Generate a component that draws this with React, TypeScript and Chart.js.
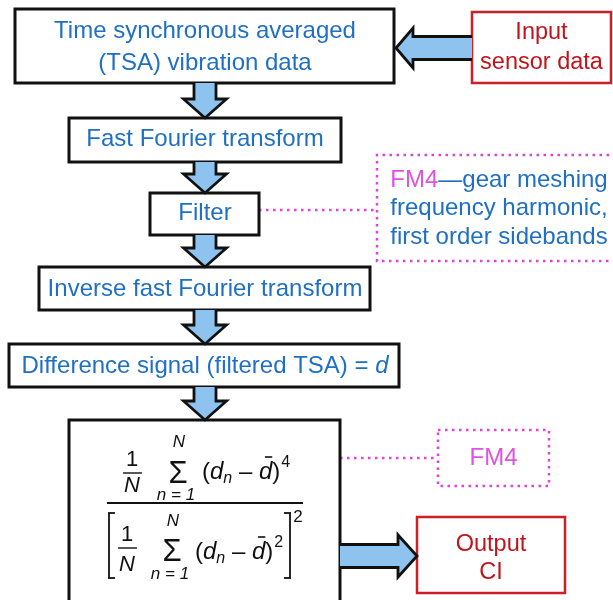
import React, { useEffect, useRef } from "react";
import { Chart, registerables } from "chart.js";

Chart.register(...registerables);

// ---------- content ----------
const stepLines: string[][] = [
  ["Time synchronous averaged", "(TSA) vibration data"],
  ["Fast Fourier transform"],
  ["Filter"],
  ["Inverse fast Fourier transform"],
  ["Difference signal (filtered TSA) = "],
];
const diffSymbol = "d";
const inputLines = ["Input", "sensor data"];
const outputLines = ["Output", "CI"];
const noteTag = "FM4";
const noteLines = ["\u2014gear meshing", "frequency harmonic,", "first order sidebands"];
const fm4Label = "FM4";

// ---------- layout (canvas units, 613 x 600) ----------
const stepBoxes = [
  [15, 9, 394, 83],
  [69, 118, 341, 162],
  [150, 193, 259, 235],
  [39, 267, 370, 310],
  [9, 344, 399, 387],
  [69, 420, 340, 640],
];
const stepTextY = [[31, 63], [139], [213], [289], [366]];
const downArrows = [
  [83, 118],
  [162, 193],
  [235, 267],
  [310, 344],
  [387, 420],
];
const flowX = 205;
const inputBox = [472, 12, 611, 83];
const inputTextY = [33, 63];
const outputBox = [417, 517, 565, 593];
const outputTextY = [545, 573];
const noteBox = [377, 155, 616, 261];
const noteTextY = [180, 208, 237];
const fm4Box = [438, 430, 549, 486];

// ---------- style ----------
const BLUE = "#1f6fc4";
const RED_TEXT = "#c0141c";
const RED_LINE = "#cc1f26";
const MAGENTA_TEXT = "#e052df";
const MAGENTA_LINE = "#e040e0";
const ARROW_FILL = "#8ec3f0";
const FAM = "'Liberation Sans', Arial, Helvetica, sans-serif";

export default function App() {
  const ref = useRef<HTMLCanvasElement>(null);

  useEffect(() => {
    document.body.style.margin = "0";
    const canvas = ref.current;
    if (!canvas) return;

    const dotted = (pts: number[][], color: string) => ({
      type: "line" as const,
      data: pts.map(([x, y]) => ({ x, y })),
      showLine: true,
      borderColor: color,
      borderWidth: 2.5,
      borderDash: [2.5, 4.5],
      borderCapStyle: "butt" as const,
      pointRadius: 0,
      fill: false,
      tension: 0,
      clip: false as any,
    });

    const datasets = [
      dotted([[259, 210], [377, 210]], MAGENTA_LINE),
      dotted(
        [
          [noteBox[2], noteBox[1]],
          [noteBox[0], noteBox[1]],
          [noteBox[0], noteBox[3]],
          [noteBox[2], noteBox[3]],
        ],
        MAGENTA_LINE
      ),
      dotted([[340, 458], [fm4Box[0], 458]], MAGENTA_LINE),
      dotted(
        [
          [fm4Box[0], fm4Box[1]],
          [fm4Box[2], fm4Box[1]],
          [fm4Box[2], fm4Box[3]],
          [fm4Box[0], fm4Box[3]],
          [fm4Box[0], fm4Box[1]],
        ],
        MAGENTA_LINE
      ),
    ];

    const flowPlugin = {
      id: "flowPlugin",
      afterDatasetsDraw(chart: any) {
        const ctx: CanvasRenderingContext2D = chart.ctx;
        const sx = chart.scales.x;
        const sy = chart.scales.y;
        const X = (v: number) => sx.getPixelForValue(v);
        const Y = (v: number) => sy.getPixelForValue(v);

        const rect = (b: number[], color: string, w: number) => {
          ctx.save();
          ctx.fillStyle = "#ffffff";
          const x0 = X(b[0]), y0 = Y(b[1]), x1 = X(b[2]), y1 = Y(b[3]);
          ctx.fillRect(x0, y0, x1 - x0, y1 - y0);
          ctx.strokeStyle = color;
          ctx.lineWidth = w;
          ctx.strokeRect(x0, y0, x1 - x0, y1 - y0);
          ctx.restore();
        };

        const text = (
          s: string,
          x: number,
          y: number,
          font: string,
          color: string,
          align: CanvasTextAlign = "center"
        ) => {
          ctx.save();
          ctx.font = font;
          ctx.fillStyle = color;
          ctx.textAlign = align;
          ctx.textBaseline = "middle";
          ctx.fillText(s, X(x), Y(y));
          ctx.restore();
        };

        const width = (s: string, font: string) => {
          ctx.save();
          ctx.font = font;
          const w = ctx.measureText(s).width;
          ctx.restore();
          return w;
        };

        // arrow along axis: from (x0,y0) to tip (x1,y1)
        const arrow = (
          x0: number,
          y0: number,
          x1: number,
          y1: number,
          shaftHalf: number,
          headHalf: number,
          headLen: number
        ) => {
          const ax = X(x0), ay = Y(y0), bx = X(x1), by = Y(y1);
          const len = Math.hypot(bx - ax, by - ay);
          const ux = (bx - ax) / len, uy = (by - ay) / len;
          const nx = -uy, ny = ux;
          const hx = bx - ux * headLen, hy = by - uy * headLen;
          const pts = [
            [ax + nx * shaftHalf, ay + ny * shaftHalf],
            [hx + nx * shaftHalf, hy + ny * shaftHalf],
            [hx + nx * headHalf, hy + ny * headHalf],
            [bx, by],
            [hx - nx * headHalf, hy - ny * headHalf],
            [hx - nx * shaftHalf, hy - ny * shaftHalf],
            [ax - nx * shaftHalf, ay - ny * shaftHalf],
          ];
          ctx.save();
          ctx.beginPath();
          ctx.moveTo(pts[0][0], pts[0][1]);
          for (let i = 1; i < pts.length; i++) ctx.lineTo(pts[i][0], pts[i][1]);
          ctx.fillStyle = ARROW_FILL;
          ctx.fill();
          ctx.beginPath();
          ctx.moveTo(pts[0][0], pts[0][1]);
          for (let i = 1; i < pts.length; i++) ctx.lineTo(pts[i][0], pts[i][1]);
          ctx.strokeStyle = "#111111";
          ctx.lineWidth = 2.8;
          ctx.lineJoin = "miter";
          ctx.stroke();
          ctx.restore();
        };

        const line = (x0: number, y0: number, x1: number, y1: number, w: number) => {
          ctx.save();
          ctx.beginPath();
          ctx.moveTo(X(x0), Y(y0));
          ctx.lineTo(X(x1), Y(y1));
          ctx.strokeStyle = "#111111";
          ctx.lineWidth = w;
          ctx.stroke();
          ctx.restore();
        };

        const F = (size: number, italic = false) =>
          `${italic ? "italic " : ""}${size}px ${FAM}`;

        // boxes
        stepBoxes.forEach((b) => rect(b, "#111111", 3));
        rect(inputBox, RED_LINE, 2.5);
        rect(outputBox, RED_LINE, 2.5);

        // arrows
        downArrows.forEach(([a, b]) => arrow(flowX, a, flowX, b, 11, 21.5, 19));
        arrow(inputBox[0], 48, 396, 48, 11.5, 20, 17);
        arrow(stepBoxes[5][2], 556, outputBox[0], 556, 11.5, 21, 19);

        // step texts
        stepLines.forEach((lines, i) => {
          lines.forEach((s, j) => {
            if (i === 4) {
              const f1 = F(24), f2 = F(24, true);
              const w1 = width(s, f1), w2 = width(diffSymbol, f2);
              const start = flowX - (w1 + w2) / 2;
              text(s, start, stepTextY[i][j], f1, BLUE, "left");
              text(diffSymbol, start + w1, stepTextY[i][j], f2, BLUE, "left");
            } else {
              text(s, flowX, stepTextY[i][j], F(24), BLUE);
            }
          });
        });

        // input / output
        const inCx = (inputBox[0] + inputBox[2]) / 2;
        inputLines.forEach((s, j) => text(s, inCx, inputTextY[j], F(23.5), RED_TEXT));
        const outCx = (outputBox[0] + outputBox[2]) / 2;
        outputLines.forEach((s, j) => text(s, outCx, outputTextY[j], F(23.5), RED_TEXT));

        // note texts
        const noteCx = 499;
        {
          const f = F(24);
          const wTag = width(noteTag, f);
          const wRest = width(noteLines[0], f);
          const start = noteCx - (wTag + wRest) / 2;
          text(noteTag, start, noteTextY[0], f, MAGENTA_TEXT, "left");
          text(noteLines[0], start + wTag, noteTextY[0], f, BLUE, "left");
          text(noteLines[1], noteCx, noteTextY[1], f, BLUE);
          text(noteLines[2], noteCx, noteTextY[2], f, BLUE);
        }
        text(fm4Label, (fm4Box[0] + fm4Box[2]) / 2, 458, F(24), MAGENTA_TEXT);

        // formula
        const K = "#111111";
        const chain = (x0: number, y: number, parts: any[]) => {
          let x = x0;
          parts.forEach((p) => {
            const w = width(p.t, p.f);
            text(p.t, x, y + (p.dy || 0), p.f, K, "left");
            if (p.bar) line(x + w * 0.45, y - 15, x + w * 1.0, y - 15, 1.6);
            x += w + (p.gap || 0);
          });
          return x;
        };
        const expr = (x0: number, y: number, pow: string) =>
          chain(x0, y, [
            { t: "(", f: F(24) },
            { t: "d", f: F(24, true) },
            { t: "n", f: F(16, true), dy: 7 },
            { t: " \u2013 ", f: F(24) },
            { t: "d", f: F(24, true), bar: true },
            { t: ")", f: F(24), gap: 1 },
            { t: pow, f: F(16), dy: -9 },
          ]);

        // numerator
        text("1", 132, 460, F(22), K);
        line(123, 473, 142, 473, 1.4);
        text("N", 132, 486, F(22, true), K);
        text("\u03A3", 178, 474, F(31), K);
        text("N", 179, 442, F(17, true), K);
        text("n = 1", 176, 495, F(17, true), K);
        expr(202, 472, "4");

        // fraction bar
        line(107, 503, 303, 503, 2);

        // denominator
        line(109, 513, 109, 578, 1.8);
        line(108, 513, 115, 513, 1.8);
        line(108, 578, 115, 578, 1.8);
        text("1", 127, 535, F(22), K);
        line(118, 548, 137, 548, 1.4);
        text("N", 127, 565, F(22, true), K);
        text("\u03A3", 172, 552, F(31), K);
        text("N", 173, 521, F(17, true), K);
        text("n = 1", 170, 574, F(17, true), K);
        expr(195, 552, "2");
        line(290, 513, 290, 578, 1.8);
        line(284, 513, 291, 513, 1.8);
        line(284, 578, 291, 578, 1.8);
        text("2", 298, 517, F(17), K);
      },
    };

    const chart = new Chart(canvas, {
      type: "scatter",
      data: { datasets: datasets as any },
      options: {
        responsive: false,
        maintainAspectRatio: false,
        animation: false,
        events: [],
        layout: { padding: 0 },
        plugins: { legend: { display: false }, tooltip: { enabled: false } },
        scales: {
          x: { type: "linear", min: 0, max: 613, display: false },
          y: { type: "linear", min: 0, max: 600, reverse: true, display: false },
        },
      },
      plugins: [flowPlugin],
    });
    return () => chart.destroy();
  }, []);

  return (
    <div style={{ width: 613, height: 600, background: "#ffffff" }}>
      <canvas ref={ref} width={613} height={600} style={{ display: "block" }} />
    </div>
  );
}
